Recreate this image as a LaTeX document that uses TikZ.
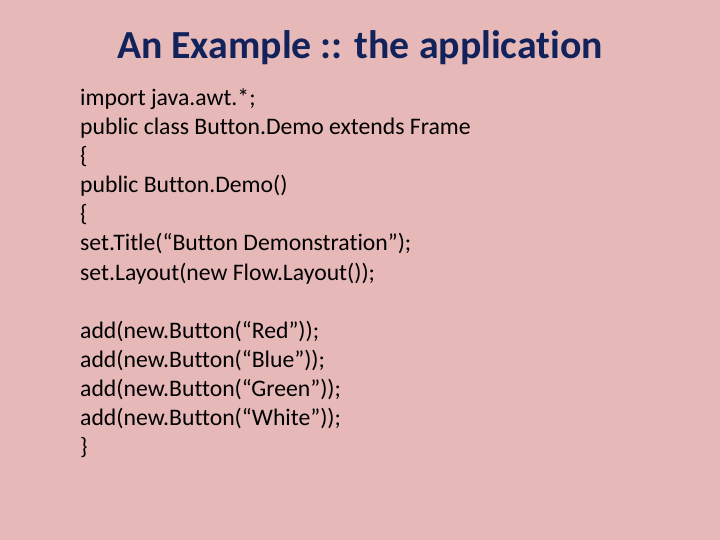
\documentclass[tikz,border=0pt]{standalone}
\usepackage{fontspec}
\setmainfont[Ligatures={NoCommon}]{Carlito}
\usetikzlibrary{positioning}
\definecolor{slidebg}{RGB}{230,184,183}
\definecolor{titleblue}{RGB}{18,34,90}
\tikzset{codeline/.style={anchor=base west,inner sep=0pt,font=\fontsize{23.7}{28}\selectfont}}
\begin{document}
\begin{tikzpicture}[x=1pt,y=-1pt]
\fill[slidebg] (0,0) rectangle (720,540);
\useasboundingbox (0,0) rectangle (720,540);
\node[anchor=base,inner sep=0pt,text=titleblue,font=\fontsize{39.8}{44}\selectfont\bfseries] (title) at (360,59) {An Example :: the application};
% code lines
\foreach \t [count=\i] in {import java.awt.*;,public class Button.Demo extends Frame,\{,public Button.Demo(),\{,set.Title(“Button Demonstration”);,set.Layout(new Flow.Layout());,,add(new.Button(“Red”));,add(new.Button(“Blue”));,add(new.Button(“Green”));,add(new.Button(“White”));,\}}
{
    \node[codeline] (line\i) at (80,{106+29*(\i-1)}) {\t};
}
\end{tikzpicture}
\end{document}
